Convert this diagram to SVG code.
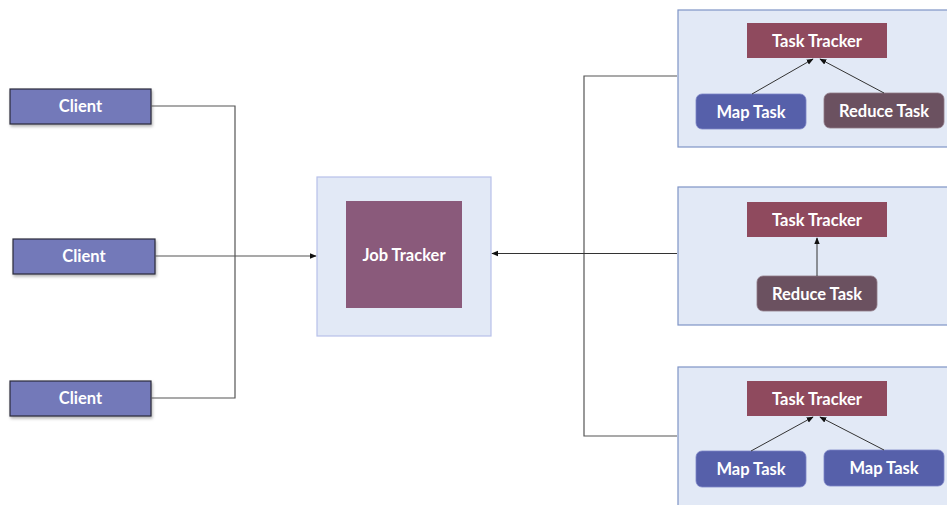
<svg xmlns="http://www.w3.org/2000/svg" width="947" height="505" viewBox="0 0 947 505">
<defs>
<style>
.lbl{font-family:Lato,"Open Sans","Liberation Sans",sans-serif;font-weight:bold;font-size:16.5px;fill:#ffffff;text-anchor:middle;dominant-baseline:central}
.client{fill:#7379B9;stroke:#2b2b3a;stroke-width:1.2}
.grp{fill:#E2E9F6;stroke:#7F94C6;stroke-width:1.2}
.tt{fill:#8F4A5E}
.map{fill:#5660AA;stroke:#7C84C6;stroke-width:0.8}
.red{fill:#6B5160;stroke:#8F7A86;stroke-width:0.8}
.ln{fill:none;stroke:#555;stroke-width:1.2}
.ln2{fill:none;stroke:#333;stroke-width:1}
</style>
<marker id="ah" viewBox="0 0 10 10" refX="9" refY="5" markerWidth="7" markerHeight="7" orient="auto-start-reverse" markerUnits="userSpaceOnUse">
<path d="M0,1 L10,5 L0,9 Z" fill="#111"/>
</marker>
<filter id="sh" x="-10%" y="-20%" width="130%" height="160%">
<feDropShadow dx="1" dy="2" stdDeviation="1.5" flood-color="#000" flood-opacity="0.3"/>
</filter>
</defs>
<rect width="947" height="505" fill="#ffffff"/>

<g id="client1"><rect class="client" x="10" y="89" width="141" height="35" filter="url(#sh)"/><text class="lbl" x="80.5" y="106">Client</text></g>
<g id="client2"><rect class="client" x="13" y="239" width="142" height="35" filter="url(#sh)"/><text class="lbl" x="84" y="256">Client</text></g>
<g id="client3"><rect class="client" x="10" y="381" width="141" height="35" filter="url(#sh)"/><text class="lbl" x="80.5" y="398">Client</text></g>

<g id="jobtracker">
<rect x="317" y="177" width="174" height="159" fill="#E2E9F6" stroke="#B7C0EA" stroke-width="1.2"/>
<rect x="346" y="201" width="116" height="107" fill="#8A5A7B"/>
<text class="lbl" x="404" y="255">Job Tracker</text>
</g>

<g id="node1">
<rect class="grp" x="678" y="10" width="275" height="137"/>
<g id="tt1"><rect class="tt" x="747" y="23" width="140" height="35"/><text class="lbl" x="817" y="40.5">Task Tracker</text></g>
<g id="map1"><rect class="map" x="696" y="94" width="110" height="35" rx="6"/><text class="lbl" x="751" y="111.5">Map Task</text></g>
<g id="red1"><rect class="red" x="824" y="93" width="120" height="35" rx="6"/><text class="lbl" x="884" y="110.5">Reduce Task</text></g>
</g>

<g id="node2">
<rect class="grp" x="678" y="187" width="275" height="138"/>
<g id="tt2"><rect class="tt" x="747" y="202" width="140" height="35"/><text class="lbl" x="817" y="219.5">Task Tracker</text></g>
<g id="red2"><rect class="red" x="757" y="276" width="120" height="35" rx="6"/><text class="lbl" x="817" y="293.5">Reduce Task</text></g>
</g>

<g id="node3">
<rect class="grp" x="678" y="367" width="275" height="150"/>
<g id="tt3"><rect class="tt" x="747" y="381" width="140" height="35"/><text class="lbl" x="817" y="398.5">Task Tracker</text></g>
<g id="map3a"><rect class="map" x="696" y="451" width="110" height="36" rx="6"/><text class="lbl" x="751" y="469">Map Task</text></g>
<g id="map3b"><rect class="map" x="824" y="450" width="120" height="36" rx="6"/><text class="lbl" x="884" y="468">Map Task</text></g>
</g>

<g id="connectors">
<polyline class="ln" points="151,106 235,106 235,398 151,398"/>
<line class="ln" x1="155" y1="256" x2="316" y2="256" marker-end="url(#ah)"/>
<polyline class="ln" points="677,76 584,76 584,436 677,436"/>
<line class="ln2" x1="677" y1="253.5" x2="492" y2="253.5" marker-end="url(#ah)"/>
<line class="ln2" x1="752" y1="94" x2="813" y2="59" marker-end="url(#ah)"/>
<line class="ln2" x1="884" y1="93" x2="820" y2="59" marker-end="url(#ah)"/>
<line class="ln2" x1="817" y1="276" x2="817" y2="238" marker-end="url(#ah)"/>
<line class="ln2" x1="751" y1="451" x2="813" y2="417" marker-end="url(#ah)"/>
<line class="ln2" x1="884" y1="450" x2="820" y2="417" marker-end="url(#ah)"/>
</g>
</svg>
